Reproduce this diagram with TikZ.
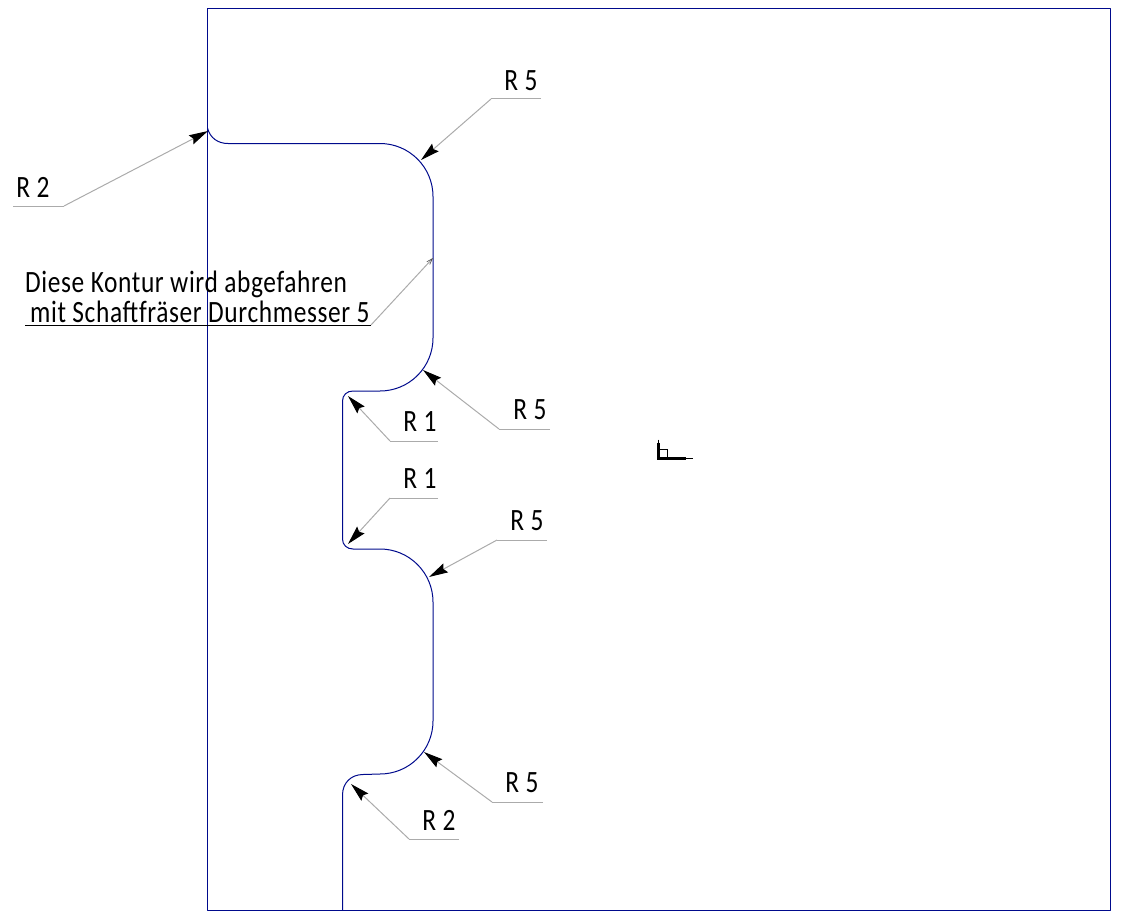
\documentclass[tikz,border=0pt]{standalone}
\usepackage{fontspec}
\setmainfont{Carlito}[FakeStretch=0.82,LetterSpace=2]
\usetikzlibrary{arrows.meta}
\definecolor{cadblue}{HTML}{000A8C}
\definecolor{leadgray}{HTML}{ABABAB}
\tikzset{
  outline/.style={draw=cadblue,line width=1pt,line join=round},
  leader/.style={draw=leadgray,line width=1pt,-{Stealth[length=19pt,width=10pt,inset=2.5pt,black]}},
  shelf/.style={draw=leadgray,line width=1pt},
  thinarrow/.style={draw=leadgray,line width=1pt,-{Straight Barb[length=6pt,width=4pt,black!70,line width=.6pt]}},
  dimtext/.style={inner sep=0pt,font=\fontsize{31}{31}\selectfont,text=black},
  notetext/.style={inner sep=0pt,anchor=base west,font=\fontsize{31}{31}\selectfont,text=black},
  originaxis/.style={draw=black,line width=3pt},
}
\begin{document}
\begin{tikzpicture}[x=1pt,y=-1pt]
\useasboundingbox (0,0) rectangle (1121,923);
% frame
\draw[outline] (207.5,9) rectangle (1110,910);
% contour
\draw[outline] (207.5,128)
  .. controls (210,138) and (218,143.5) .. (228,143.5)
  -- (380,143.5)
  arc[start angle=90,end angle=0,x radius=53,y radius=-53]
  -- (433,338)
  arc[start angle=0,end angle=-90,x radius=53,y radius=-53]
  -- (353,391)
  .. controls (347,391) and (342.5,395) .. (342.5,401)
  -- (342.5,539)
  .. controls (342.5,545) and (347,549) .. (353,549)
  -- (380,549)
  arc[start angle=90,end angle=0,x radius=53,y radius=-53]
  -- (433,721)
  arc[start angle=0,end angle=-90,x radius=53,y radius=-53]
  -- (363,774.5)
  .. controls (351,774.5) and (342.5,783) .. (342.5,795)
  -- (342.5,910);
% coordinates
\coordinate (t1) at (421,160); \coordinate (k1) at (491,99); \coordinate (e1) at (541,99);
\coordinate (t2) at (208,131); \coordinate (k2) at (64,206); \coordinate (e2) at (13,206);
\coordinate (t3) at (423,370); \coordinate (k3) at (499,429); \coordinate (e3) at (550,429);
\coordinate (t4) at (348,396); \coordinate (k4) at (390,441); \coordinate (e4) at (438,441);
\coordinate (t5) at (348,544); \coordinate (k5) at (390,498); \coordinate (e5) at (438,498);
\coordinate (t6) at (429,577); \coordinate (k6) at (497,540); \coordinate (e6) at (547,540);
\coordinate (t7) at (424,752); \coordinate (k7) at (492,802); \coordinate (e7) at (543,802);
\coordinate (t8) at (351,784); \coordinate (k8) at (409,839); \coordinate (e8) at (459,839);
\coordinate (t9) at (433,258); \coordinate (k9) at (371,325); \coordinate (e9) at (25,325);
% leaders
\foreach \i in {1,...,8}{
  \draw[shelf] (e\i) -- (k\i);
  \draw[leader] (k\i) -- (t\i);
}
\draw[black,line width=1pt] (e9) -- (k9);
\draw[thinarrow] (k9) -- (t9);
% labels
\node[dimtext] (l1) at (521,81) {R 5};
\node[dimtext] (l2) at (33,187) {R 2};
\node[dimtext] (l3) at (530,410) {R 5};
\node[dimtext] (l4) at (420,422) {R 1};
\node[dimtext] (l5) at (420,479) {R 1};
\node[dimtext] (l6) at (527,521) {R 5};
\node[dimtext] (l7) at (522,783) {R 5};
\node[dimtext] (l8) at (439,820) {R 2};
\node[notetext] (n1) at (25,292.5) {Diese Kontur wird abgefahren};
\node[notetext] (n2) at (30,322.5) {mit Schaftfräser Durchmesser 5};
% origin symbol
\coordinate (o) at (658,458.5);
\draw[originaxis,line cap=rect] (o) -- ++(0,-14);
\draw[black,line width=1pt] (o) ++(0,-19) -- ++(0,6);
\draw[originaxis] (o) -- ++(28,0);
\draw[black,line width=1pt] (o) ++(26,0) -- ++(9,0);
\draw[black,line width=1pt] (o) ++(1,-9) rectangle ++(8,9);
\end{tikzpicture}
\end{document}
